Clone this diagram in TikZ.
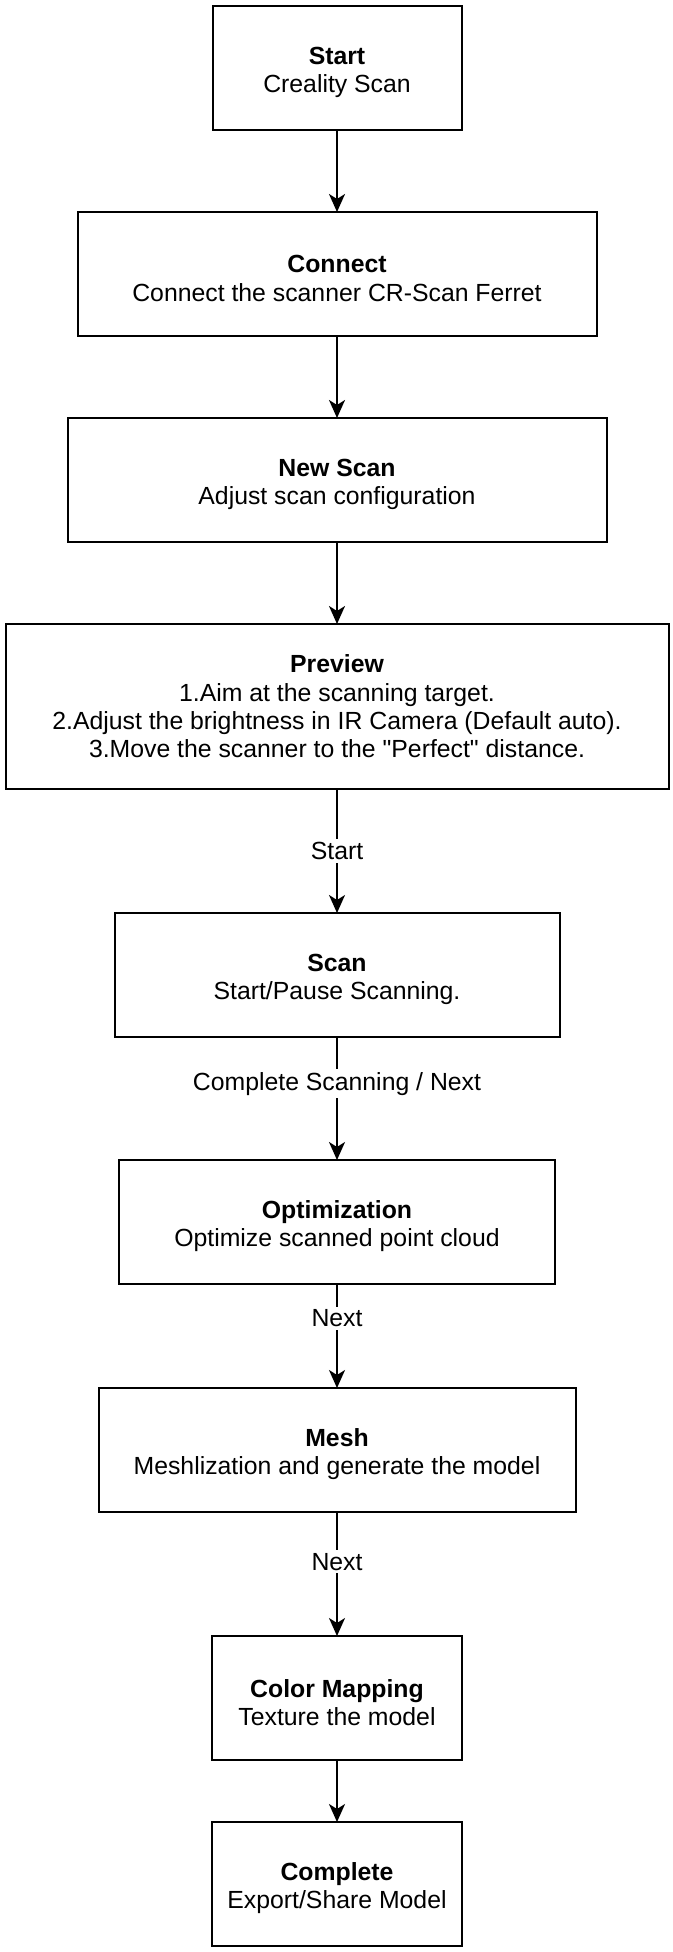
\documentclass[tikz,border=0pt]{standalone}
\usepackage{fontspec}
\setmainfont{Liberation Sans}
\usepackage{tikz}
\usetikzlibrary{arrows.meta, positioning}
\newcommand{\steptitle}[1]{\rule{0pt}{13.3pt}\textbf{#1}}

\begin{document}
\begin{tikzpicture}[
  node distance=41pt,
  box/.style={rectangle, draw=black, line width=1pt, fill=white,
    minimum height=62pt, inner sep=2pt, outer sep=0pt, align=center,
    font=\fontsize{12.4}{14.2}\selectfont},
  arr/.style={-{Stealth[length=9pt, width=8pt, inset=2.5pt]}, line width=1pt},
  lbl/.style={fill=white, inner sep=1.5pt, font=\fontsize{12.4}{14.2}\selectfont},
]
  \useasboundingbox (0,0) rectangle (336.5pt,-976pt);
  \node[box, minimum width=124.5pt] (start) at (168.5pt,-34pt) {\steptitle{Start}\\Creality Scan};
  \node[box, minimum width=259.5pt, below=of start] (connect) {\steptitle{Connect}\\Connect the scanner CR-Scan Ferret};
  \node[box, minimum width=269.5pt, below=of connect] (newscan) {\steptitle{New Scan}\\Adjust scan configuration};
  \node[box, minimum width=331.5pt, minimum height=82.5pt, below=of newscan] (preview)
    {\textbf{Preview}\\1.Aim at the scanning target.\\2.Adjust the brightness in IR Camera (Default auto).\\3.Move the scanner to the \textquotedbl Perfect\textquotedbl{} distance.};
  \node[box, minimum width=222.5pt, below=62pt of preview] (scan) {\steptitle{Scan}\\Start/Pause Scanning.};
  \node[box, minimum width=218pt, below=61.5pt of scan] (optim) {\steptitle{Optimization}\\Optimize scanned point cloud};
  \node[box, minimum width=238.5pt, below=52pt of optim] (mesh) {\steptitle{Mesh}\\Meshlization and generate the model};
  \node[box, minimum width=125pt, below=62pt of mesh] (colormap) {\steptitle{Color Mapping}\\Texture the model};
  \node[box, minimum width=125pt, below=31pt of colormap] (complete) {\steptitle{Complete}\\Export/Share Model};
  \draw[arr] (start) -- (connect);
  \draw[arr] (connect) -- (newscan);
  \draw[arr] (newscan) -- (preview);
  \draw[arr] (preview) -- node[lbl, pos=0.5] (lstart) {Start} (scan);
  \draw[arr] (scan) -- node[lbl, pos=0.38] (lcomplete) {Complete Scanning / Next} (optim);
  \draw[arr] (optim) -- node[lbl, pos=0.33] (lnext1) {Next} (mesh);
  \draw[arr] (mesh) -- node[lbl, pos=0.4] (lnext2) {Next} (colormap);
  \draw[arr] (colormap) -- (complete);
\end{tikzpicture}
\end{document}
